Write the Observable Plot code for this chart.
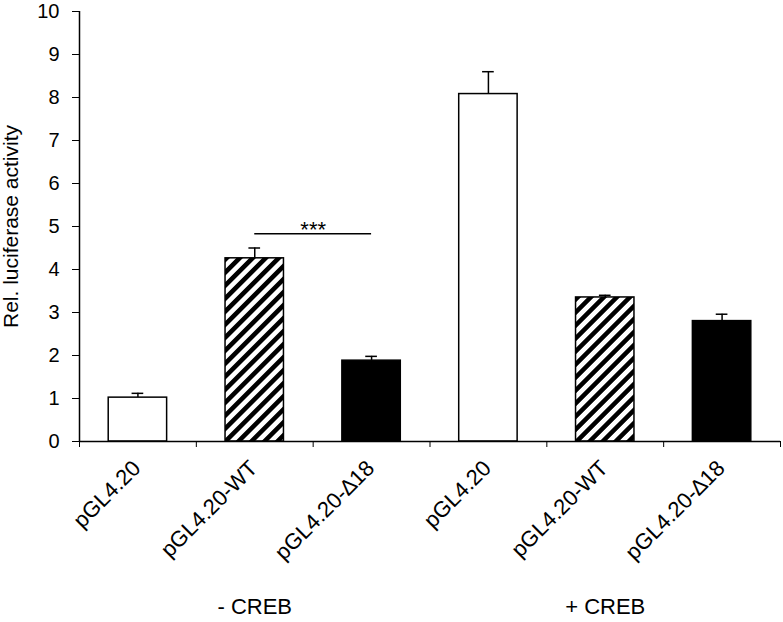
<!DOCTYPE html>
<html>
<head>
<meta charset="utf-8">
<script src="https://cdn.jsdelivr.net/npm/d3@7"></script>
<script src="https://cdn.jsdelivr.net/npm/@observablehq/plot@0.6"></script>
<style>
  html, body { margin: 0; padding: 0; background: #fff; }
  #chart svg { display: block; }
</style>
</head>
<body>
<div id="chart"></div>
<script>
const labels = ["pGL4.20", "pGL4.20-WT", "pGL4.20-\u220618", "pGL4.20", "pGL4.20-WT", "pGL4.20-\u220618"];
const values = [1.02, 4.26, 1.88, 8.08, 3.35, 2.80];
const errors = [0.10, 0.24, 0.10, 0.52, 0.05, 0.16];
const fills = ["white", "hatch", "black", "white", "hatch", "black"];
const groups = ["- CREB", "+ CREB"];
const yTicks = [0, 1, 2, 3, 4, 5, 6, 7, 8, 9, 10];
const sigPair = [1, 2];
const sigY = 4.83;
const sigText = "***";

const data = labels.map((label, i) => ({
  i, label, value: values[i], err: errors[i], fill: fills[i]
}));
const groupData = groups.map((g, k) => ({g, center: k * 3 + 1.5}));

const fillOf = f => f === "hatch" ? "url(#hatch)" : f;
const font = "'Liberation Sans', Arial, sans-serif";

const barMarks = ["white", "hatch", "black"].map(f =>
  Plot.rectY(data.filter(d => d.fill === f), {
    x1: d => d.i + 0.25, x2: d => d.i + 0.75, y1: 0, y2: "value",
    fill: fillOf(f), stroke: "black", strokeWidth: 1.5
  })
);

const chart = Plot.plot({
  width: 783,
  height: 622,
  marginLeft: 79,
  marginRight: 3,
  marginTop: 11,
  marginBottom: 181,
  style: {fontFamily: font, background: "white", color: "black"},
  x: {type: "linear", domain: [0, 6], axis: null},
  y: {type: "linear", domain: [0, 10], axis: null},
  marks: [
    // error bars (upper only)
    Plot.ruleX(data, {x: d => d.i + 0.5, y1: "value", y2: d => d.value + d.err, stroke: "black", strokeWidth: 1.5}),
    Plot.ruleY(data, {x1: d => d.i + 0.45, x2: d => d.i + 0.55, y: d => d.value + d.err, stroke: "black", strokeWidth: 1.5}),
    ...barMarks,
    // axes
    Plot.axisY({ticks: yTicks, tickSize: 7, tickPadding: 13, fontSize: 20, label: null, tickFormat: d => String(d)}),
    Plot.axisX({ticks: [0, 1, 2, 3, 4, 5, 6], tickSize: 6, tickFormat: () => "", label: null}),
    Plot.ruleX([0], {stroke: "black", strokeWidth: 1.5}),
    Plot.ruleY([0], {stroke: "black", strokeWidth: 1.5}),
    // category labels
    Plot.text(data, {x: d => d.i + 0.5, y: 0, text: "label", rotate: -45, textAnchor: "end",
      lineAnchor: "middle", dx: -1, dy: 23, fontSize: 22}),
    // group labels
    Plot.text(groupData, {x: "center", y: 0, text: "g", dy: 165, fontSize: 22, lineAnchor: "middle"}),
    // significance
    Plot.ruleY([sigY], {x1: sigPair[0] + 0.5, x2: sigPair[1] + 0.5, stroke: "black", strokeWidth: 1.5}),
    Plot.text([sigText], {x: (sigPair[0] + sigPair[1]) / 2 + 0.5, y: sigY, text: d => d, dy: -4, lineAnchor: "middle", fontSize: 22}),
    // y label
    Plot.text(["Rel. luciferase activity"], {frameAnchor: "left", text: d => d, rotate: -90, dx: -62, textAnchor: "middle", lineAnchor: "bottom", fontSize: 21})
  ]
});

// hatch pattern
const svg = d3.select(chart);
const defs = svg.insert("defs", ":first-child");
const pat = defs.append("pattern")
  .attr("id", "hatch")
  .attr("patternUnits", "userSpaceOnUse")
  .attr("width", 9.2).attr("height", 9.2)
  .attr("patternTransform", "rotate(45)");
pat.append("rect").attr("width", 9.2).attr("height", 9.2).attr("fill", "white");
pat.append("rect").attr("x", 0).attr("width", 4.6).attr("height", 9.2).attr("fill", "black");

document.getElementById("chart").appendChild(chart);
</script>
</body>
</html>
